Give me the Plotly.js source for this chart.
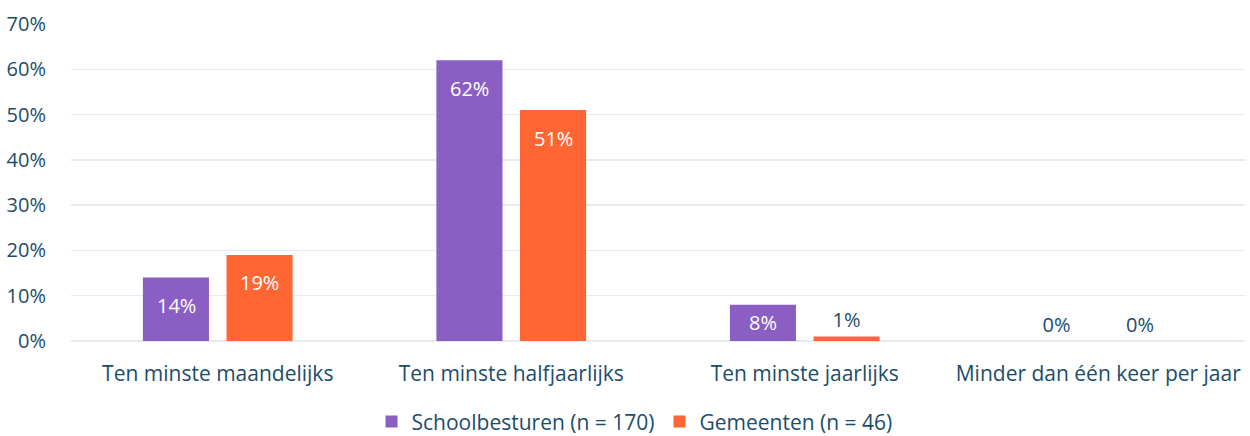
<!DOCTYPE html>
<html>
<head>
<meta charset="utf-8">
<script src="https://cdn.plot.ly/plotly-3.0.1.min.js"></script>
<style>
  html, body { margin: 0; padding: 0; background: #fff; }
  #chart { width: 1250px; height: 436px; }
</style>
</head>
<body>
<div id="chart"></div>
<script>
const categories = ['Ten minste maandelijks', 'Ten minste halfjaarlijks', 'Ten minste jaarlijks', 'Minder dan één keer per jaar'];
const schoolbesturen = [14, 62, 8, 0];
const gemeenten = [19, 51, 1, 0];
const yTicks = [0, 10, 20, 30, 40, 50, 60, 70];

const textColor = '#1B4D6B';
const fontFamily = '"Open Sans", sans-serif';
const labelSize = 20;
const catSize = 21;

const plotTop = 24, plotBottom = 95;
const plotH = 436 - plotTop - plotBottom;
const yMax = 70;
const slot = 83.5; // px between the centres of the two bars in a group

// labels of big bars go inside, a bit under the top; small bars keep plotly's outside label
function insideLabels(vals, shift) {
    return vals.map((v, i) => {
        if (v < 5) return null;
        const barPx = v / yMax * plotH;
        return {
            x: categories[i], y: v, xref: 'x', yref: 'y',
            text: v + '%', showarrow: false,
            xshift: shift, yshift: -Math.min(28, barPx / 2),
            yanchor: 'middle',
            font: { color: '#ffffff', size: labelSize, family: fontFamily }
        };
    }).filter(a => a);
}

function outsideText(vals) {
    return vals.map(v => v < 5 ? v + '%' : '');
}

const traces = [
    {
        x: categories,
        y: schoolbesturen,
        type: 'bar',
        name: 'Schoolbesturen (n = 170)',
        marker: { color: '#8A5EC2' },
        text: outsideText(schoolbesturen),
        textposition: 'outside',
        textfont: { color: textColor, size: labelSize, family: fontFamily },
        cliponaxis: false,
        hoverinfo: 'skip'
    },
    {
        x: categories,
        y: gemeenten,
        type: 'bar',
        name: 'Gemeenten (n = 46)',
        marker: { color: '#FF6633' },
        text: outsideText(gemeenten),
        textposition: 'outside',
        textfont: { color: textColor, size: labelSize, family: fontFamily },
        cliponaxis: false,
        hoverinfo: 'skip'
    }
];

const layout = {
    width: 1250,
    height: 436,
    margin: { l: 71, r: 5, t: plotTop, b: plotBottom, autoexpand: false },
    barmode: 'group',
    bargap: 0.43,
    bargroupgap: 0.21,
    font: { family: fontFamily, color: textColor, size: labelSize },
    paper_bgcolor: '#ffffff',
    plot_bgcolor: '#ffffff',
    showlegend: true,
    legend: {
        orientation: 'h',
        x: 0.48,
        xanchor: 'center',
        y: -0.255,
        yanchor: 'middle',
        font: { size: catSize, color: textColor },
        itemwidth: 30,
        traceorder: 'normal'
    },
    annotations: insideLabels(schoolbesturen, -slot / 2).concat(insideLabels(gemeenten, slot / 2)),
    xaxis: {
        tickfont: { size: catSize, color: textColor },
        showgrid: false,
        showline: false,
        zeroline: false,
        ticks: 'outside',
        ticklen: 14,
        tickcolor: 'rgba(0,0,0,0)'
    },
    yaxis: {
        range: [0, yMax],
        tickvals: yTicks,
        ticktext: yTicks.map(v => v + '%'),
        tickfont: { size: labelSize, color: textColor },
        showgrid: true,
        gridcolor: '#E4EAEF',
        gridwidth: 1.5,
        zeroline: true,
        zerolinecolor: '#E4EAEF',
        zerolinewidth: 1.5,
        showline: false,
        ticks: 'outside',
        ticklen: 20,
        tickcolor: 'rgba(0,0,0,0)'
    }
};

Plotly.newPlot('chart', traces, layout, { displayModeBar: false, staticPlot: true });
</script>
</body>
</html>
